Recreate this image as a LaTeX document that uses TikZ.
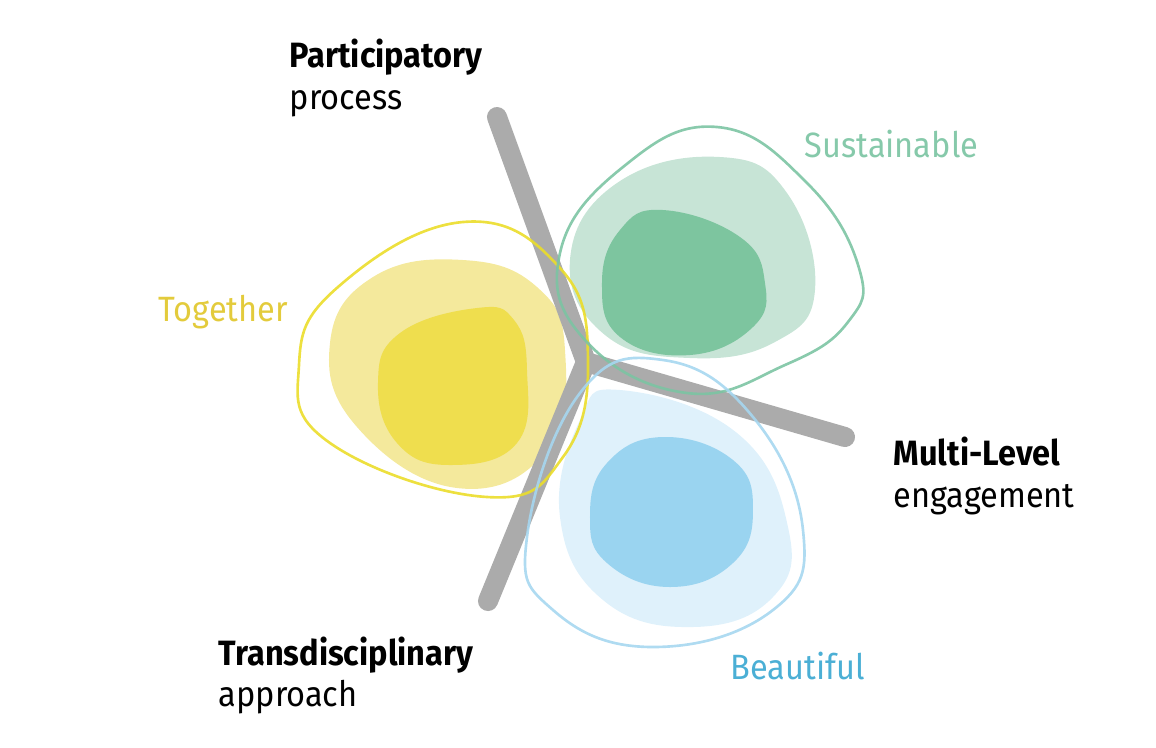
\documentclass[tikz,border=0pt]{standalone}
\usepackage{fontspec}
\setmainfont[FakeStretch=0.925]{Fira Sans}
\usepackage{tikz}
\usetikzlibrary{positioning}

\definecolor{yelLine}{HTML}{EBDD2A}
\definecolor{yelLight}{HTML}{F4E99C}
\definecolor{yelDark}{HTML}{EFDE4E}
\definecolor{yelText}{HTML}{E3CB3C}
\definecolor{grnLine}{HTML}{7CC4A3}
\definecolor{grnLight}{HTML}{C7E4D6}
\definecolor{grnDark}{HTML}{7DC59F}
\definecolor{grnText}{HTML}{86C9AA}
\definecolor{bluLine}{HTML}{A6D7F0}
\definecolor{bluLight}{HTML}{DFF1FB}
\definecolor{bluDark}{HTML}{9AD4F0}
\definecolor{bluText}{HTML}{4BAFD5}
\definecolor{armGray}{HTML}{ABABAB}

\tikzset{
  lbl/.style={font=\fontsize{10}{12}\selectfont, inner sep=0pt, anchor=base west},
  blob/.style={smooth cycle, tension=0.75},
  rim/.style={line width=0.75pt, opacity=0.9},
  arm/.style={line width=5.7pt, armGray, line cap=round, line join=miter}
}

\begin{document}
\begin{tikzpicture}[x=0.01cm, y=-0.01cm]
            \useasboundingbox (0,0) rectangle (1156,747);

            % Together
            \fill[yelLight] plot[blob] coordinates {(463,260) (537,287) (565,350) (547,450) (457,488) (357,427) (330,343) (373,277)};
            \fill[yelDark] plot[blob] coordinates {(477,308) (514,320) (527,370) (517,443) (450,465) (397,443) (378,383) (400,333)};

            % Sustainable
            \fill[grnLight] plot[blob] coordinates {(720,157) (787,193) (815,290) (775,342) (690,358) (605,335) (570,260) (617,183)};
            \fill[grnDark] plot[blob] coordinates {(663,210) (740,237) (765,283) (753,327) (690,355) (620,337) (602,283) (620,230)};

            % Beautiful
            \fill[bluLight] plot[blob] coordinates {(620,390) (737,433) (788,527) (773,597) (693,627) (603,600) (560,517) (580,420)};
            \fill[bluDark] plot[blob] coordinates {(663,437) (733,460) (753,510) (733,563) (670,587) (607,563) (590,517) (607,463)};

            % arms
            \coordinate (hub) at (586,362);
            \coordinate (armP) at (497,117);
            \coordinate (armM) at (845,437);
            \coordinate (armT) at (488,601);
            \draw[arm] (armP) -- (hub) -- (armT);
            \draw[arm] (hub) -- (armM);

            % outlines
            \draw[rim, yelLine] plot[blob] coordinates {(463,222) (560,268) (588,360) (563,457) (487,497) (330,443) (299,365) (338,287)};
            \draw[rim, grnLine] plot[blob] coordinates {(717,127) (807,183) (859,268) (848,322) (785,365) (687,393) (585,340) (560,253) (623,167)};
            \draw[rim, bluLine] plot[blob] coordinates {(663,360) (753,417) (803,530) (773,610) (653,647) (553,610) (527,537) (580,393)};

            % labels
            \node[lbl] (partT) at (289,67) {\textbf{Participatory}};
            \node[lbl] (partS) at (289,109) {process};
            \node[lbl, grnText] (sust) at (804,157) {Sustainable};
            \node[lbl, yelText] (toge) at (158,321) {Together};
            \node[lbl] (multT) at (893,465) {\textbf{Multi-Level}};
            \node[lbl] (multS) at (893,507) {engagement};
            \node[lbl] (tranT) at (218,665) {\textbf{Transdisciplinary}};
            \node[lbl] (tranS) at (218,706) {approach};
            \node[lbl, bluText] (beau) at (730,679) {Beautiful};
        \end{tikzpicture}
\end{document}
